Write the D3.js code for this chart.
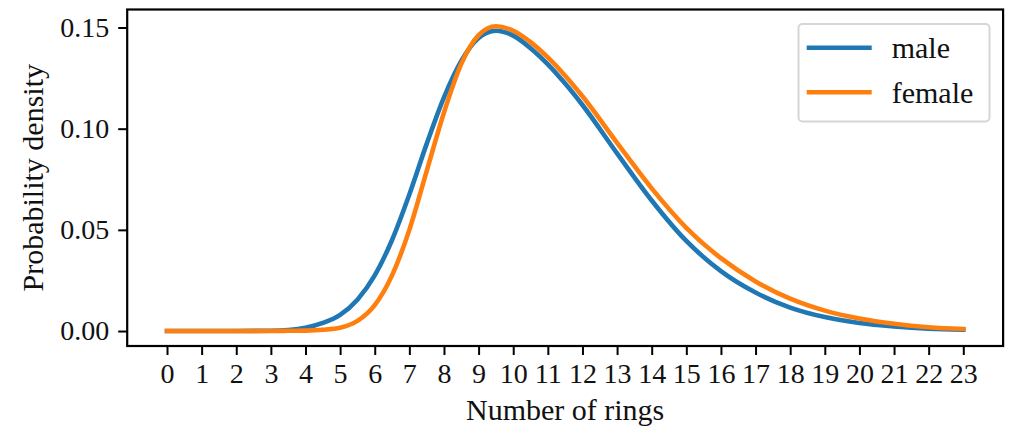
<!DOCTYPE html>
<html>
<head>
<meta charset="utf-8">
<script src="https://cdn.jsdelivr.net/npm/d3@7"></script>
<style>
  body { margin: 0; background: #fff; }
  svg { display: block; font-family: "Liberation Serif", "DejaVu Serif", serif; }
  .tick text { font-size: 28px; fill: #111; }
</style>
</head>
<body>
<svg width="1010" height="430"></svg>
<script>
const rings = [0, 1, 2, 3, 3.5, 4, 4.5, 5, 5.5, 6, 6.5, 7, 7.5, 8, 8.5, 9, 9.5, 10, 10.5, 11, 11.5,
               12, 13, 14, 15, 16, 17, 18, 19, 20, 21, 22, 23];

const male = [0, 0, 0, 0.0001, 0.0005, 0.0016, 0.0040, 0.0080, 0.0155, 0.0275, 0.0450, 0.0675, 0.0925,
              0.1155, 0.1335, 0.1448, 0.1484, 0.1460, 0.1398, 0.1318, 0.1223,
              0.1117, 0.0878, 0.0645, 0.0445, 0.0296, 0.0190, 0.0116, 0.0069, 0.0040, 0.0023, 0.0012, 0.0007];

const female = [0, 0, 0, 0, 0.0001, 0.0002, 0.0006, 0.0016, 0.0050, 0.0128, 0.0275, 0.0500, 0.0790,
                0.1080, 0.1320, 0.1462, 0.1506, 0.1484, 0.1428, 0.1352, 0.1262,
                0.1160, 0.0930, 0.0705, 0.0510, 0.0360, 0.0245, 0.0160, 0.0101, 0.0062, 0.0036, 0.0019, 0.0010];

const xTicks = d3.range(0, 24);
const yTicks = [0, 0.05, 0.10, 0.15];
const seriesNames = ["male", "female"];
const colors = ["#1f77b4", "#ff7f0e"];

const plotLeft = 127.2, plotRight = 1003.1, plotTop = 9.5, plotBottom = 346;

const svg = d3.select("svg");

const x = d3.scaleLinear().domain([-1.15, 24.15]).range([plotLeft, plotRight]);
const y = d3.scaleLinear().domain([-0.0074, 0.1589]).range([plotBottom, plotTop]);

// Axes
svg.append("g")
  .attr("transform", `translate(0,${plotBottom})`)
  .call(d3.axisBottom(x).tickValues(xTicks).tickFormat(d3.format("d")).tickSize(9).tickPadding(8.5))
  .call(g => g.select(".domain").remove())
  .call(g => g.selectAll(".tick line").attr("stroke", "#000").attr("stroke-width", 2));

svg.append("g")
  .attr("transform", `translate(${plotLeft},0)`)
  .call(d3.axisLeft(y).tickValues(yTicks).tickFormat(d3.format(".2f")).tickSize(9).tickPadding(9))
  .call(g => g.select(".domain").remove())
  .call(g => g.selectAll(".tick line").attr("stroke", "#000").attr("stroke-width", 2));

svg.selectAll("g").attr("font-family", null).attr("font-size", null);

// Lines
const line = d3.line()
  .x((d, i) => x(rings[i]))
  .y(d => y(d))
  .curve(d3.curveMonotoneX);

svg.append("defs").append("clipPath").attr("id", "plot")
  .append("rect").attr("x", plotLeft).attr("y", plotTop)
  .attr("width", plotRight - plotLeft).attr("height", plotBottom - plotTop);

const plot = svg.append("g").attr("clip-path", "url(#plot)");

[male, female].forEach((vals, i) => {
  plot.append("path")
    .datum(vals)
    .attr("fill", "none")
    .attr("stroke", colors[i])
    .attr("stroke-width", 4.6)
    .attr("stroke-linejoin", "round")
    .attr("stroke-linecap", "square")
    .attr("d", line);
});

// Frame
svg.append("rect")
  .attr("x", plotLeft).attr("y", plotTop)
  .attr("width", plotRight - plotLeft).attr("height", plotBottom - plotTop)
  .attr("fill", "none")
  .attr("stroke", "#000")
  .attr("stroke-width", 2.2);

// Axis labels
svg.append("text")
  .attr("x", (plotLeft + plotRight) / 2)
  .attr("y", 420)
  .attr("text-anchor", "middle")
  .style("font-size", "30px")
  .attr("fill", "#111")
  .text("Number of rings");

svg.append("text")
  .attr("transform", `translate(43,${(plotTop + plotBottom) / 2}) rotate(-90)`)
  .attr("text-anchor", "middle")
  .style("font-size", "30px")
  .attr("fill", "#111")
  .text("Probability density");

// Legend
const legend = svg.append("g");
legend.append("rect")
  .attr("x", 798.5).attr("y", 24)
  .attr("width", 191).attr("height", 97.5)
  .attr("rx", 4)
  .attr("fill", "#fff")
  .attr("fill-opacity", 0.8)
  .attr("stroke", "#d6d6d6")
  .attr("stroke-width", 2);

seriesNames.forEach((name, i) => {
  const ly = 47.7 + i * 44.6;
  legend.append("line")
    .attr("x1", 806.7).attr("x2", 871.7)
    .attr("y1", ly).attr("y2", ly)
    .attr("stroke", colors[i])
    .attr("stroke-width", 4.6);
  legend.append("text")
    .attr("x", 891.7)
    .attr("y", ly + 10.6)
    .style("font-size", "30px")
    .attr("fill", "#111")
    .text(name);
});
</script>
</body>
</html>
